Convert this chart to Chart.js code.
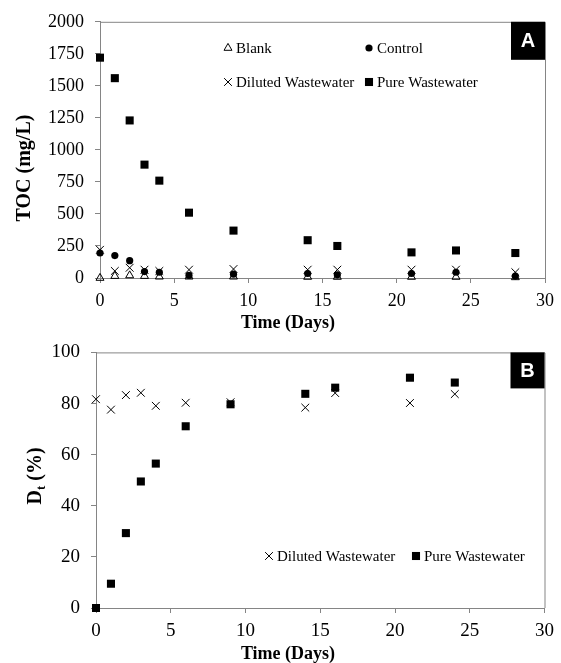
<!DOCTYPE html>
<html lang="en">
<head>
    <meta charset="UTF-8">
    <title>TOC and Dt over time</title>
    <script src="https://cdn.jsdelivr.net/npm/chart.js"></script>
    <style>
        body { margin: 0; background: #fff; }
        canvas { position: absolute; left: 0; }
        #tocChart { top: 0; }
        #dtChart { top: 330px; }
    </style>
</head>
<body>
    <canvas id="tocChart" width="561" height="342"></canvas>
    <canvas id="dtChart" width="561" height="333"></canvas>

    <script>
        // Panel A: TOC (mg/L) vs time
        const tocDays = [0, 1, 2, 3, 4, 6, 9, 14, 16, 21, 24, 28];
        const tocBlank = [0, 15, 20, 15, 10, 10, 10, 8, 8, 8, 8, 5];
        const tocControl = [195, 175, 135, 50, 45, 20, 30, 35, 25, 35, 45, 15];
        const tocDiluted = [220, 55, 80, 65, 55, 65, 70, 65, 65, 65, 65, 45];
        const tocPure = [1720, 1560, 1230, 885, 760, 510, 370, 295, 250, 200, 215, 195];

        // Panel B: Dt (%) vs time
        const dtDays = [0, 1, 2, 3, 4, 6, 9, 14, 16, 21, 24];
        const dtDiluted = [81.7, 77.6, 83.3, 84.2, 79.1, 80.3, 80.5, 78.4, 84.1, 80.2, 83.7];
        const dtPure = [0, 9.5, 29.3, 49.5, 56.5, 71.1, 79.7, 83.8, 86.2, 90.1, 88.2];

        const xTicks = [0, 5, 10, 15, 20, 25, 30];

        const SERIF = '"Liberation Serif", "Times New Roman", serif';
        const AXIS = '#858585';

        const toPoints = (xs, ys) => xs.map((x, i) => ({ x: x, y: ys[i] }));

        const styles = {
            blank:   { pointStyle: 'triangle', pointRadius: 4.6, backgroundColor: 'rgba(0,0,0,0)', borderColor: '#000', borderWidth: 1 },
            control: { pointStyle: 'circle',   pointRadius: 3.6, backgroundColor: '#000', borderColor: '#000', borderWidth: 0 },
            diluted: { pointStyle: 'crossRot', pointRadius: 5.5, backgroundColor: '#000', borderColor: '#000', borderWidth: 1 },
            pure:    { pointStyle: 'rect',     pointRadius: 5.7, backgroundColor: '#000', borderColor: '#000', borderWidth: 0 }
        };

        function drawMarker(ctx, st, x, y) {
            const r = st.pointRadius;
            ctx.save();
            ctx.fillStyle = st.backgroundColor;
            ctx.strokeStyle = st.borderColor;
            ctx.lineWidth = 1;
            ctx.beginPath();
            if (st.pointStyle === 'triangle') {
                for (let k = 0; k < 3; k++) {
                    const a = k * 2 * Math.PI / 3;
                    const px = x + Math.sin(a) * r, py = y - Math.cos(a) * r;
                    k === 0 ? ctx.moveTo(px, py) : ctx.lineTo(px, py);
                }
                ctx.closePath();
                ctx.stroke();
            } else if (st.pointStyle === 'circle') {
                ctx.arc(x, y, r, 0, 2 * Math.PI);
                ctx.fill();
            } else if (st.pointStyle === 'crossRot') {
                const d = r * Math.SQRT1_2;
                ctx.moveTo(x - d, y - d); ctx.lineTo(x + d, y + d);
                ctx.moveTo(x + d, y - d); ctx.lineTo(x - d, y + d);
                ctx.stroke();
            } else {
                const s = r * Math.SQRT1_2;
                ctx.fillRect(x - s, y - s, 2 * s, 2 * s);
            }
            ctx.restore();
        }

        // frame, panel letter, legend and axis titles
        const panelDecor = {
            id: 'panelDecor',
            afterDraw(chart, args, opts) {
                const ctx = chart.ctx;
                const a = chart.chartArea;
                ctx.save();
                ctx.strokeStyle = AXIS;
                ctx.lineWidth = 1;
                ctx.beginPath();
                ctx.moveTo(a.left, a.top + 0.5);
                ctx.lineTo(a.right + 0.5, a.top + 0.5);
                ctx.lineTo(a.right + 0.5, a.bottom);
                ctx.stroke();

                ctx.fillStyle = '#000';
                ctx.fillRect(a.right - opts.boxW, a.top, opts.boxW, opts.boxH);
                ctx.fillStyle = '#fff';
                ctx.font = 'bold 20px "Liberation Sans", Arial, sans-serif';
                ctx.textAlign = 'center';
                ctx.textBaseline = 'middle';
                ctx.fillText(opts.letter, a.right - opts.boxW / 2, a.top + opts.boxH / 2 + 1);

                ctx.font = '15px ' + SERIF;
                ctx.textAlign = 'left';
                ctx.fillStyle = '#000';
                opts.legend.forEach(item => {
                    drawMarker(ctx, styles[item.key], item.x, item.y);
                    ctx.fillText(item.text, item.x + 8, item.y + 1);
                });

                // x title
                ctx.font = 'bold 18px ' + SERIF;
                ctx.textAlign = 'center';
                ctx.fillText('Time (Days)', opts.xTitle[0], opts.xTitle[1]);

                // y title (rotated)
                ctx.translate(opts.yTitle[0], opts.yTitle[1]);
                ctx.rotate(-Math.PI / 2);
                const main = 'bold 20px ' + SERIF;
                const sub = 'bold 13px ' + SERIF;
                const parts = opts.yParts;
                let total = 0;
                parts.forEach(p => { ctx.font = p.sub ? sub : main; total += ctx.measureText(p.t).width; });
                let cx = -total / 2;
                ctx.textAlign = 'left';
                parts.forEach(p => {
                    ctx.font = p.sub ? sub : main;
                    ctx.fillText(p.t, cx, p.sub ? 6 : 0);
                    cx += ctx.measureText(p.t).width;
                });
                ctx.restore();
            }
        };

        function makeScales(yMax, yStep, tickSize, yWidth, xHeight) {
            const grid = { display: true, drawOnChartArea: false, drawTicks: true, tickLength: 5, color: AXIS, lineWidth: 1 };
            return {
                x: {
                    type: 'linear', min: 0, max: 30,
                    afterBuildTicks: s => { s.ticks = xTicks.map(v => ({ value: v })); },
                    ticks: { font: { family: SERIF, size: tickSize }, color: '#000', padding: 7 },
                    grid: grid,
                    border: { color: AXIS },
                    afterFit: s => { s.height = xHeight; }
                },
                y: {
                    min: 0, max: yMax,
                    ticks: {
                        stepSize: yStep, font: { family: SERIF, size: tickSize }, color: '#000', padding: 11,
                        callback: v => String(v)
                    },
                    grid: grid,
                    border: { color: AXIS },
                    afterFit: s => { s.width = yWidth; }
                }
            };
        }

        function ds(label, key, pts) {
            return Object.assign({ label: label, data: pts, showLine: false, clip: false }, styles[key]);
        }

        new Chart(document.getElementById('tocChart'), {
            type: 'scatter',
            data: {
                datasets: [
                    ds('Pure Wastewater', 'pure', toPoints(tocDays, tocPure)),
                    ds('Diluted Wastewater', 'diluted', toPoints(tocDays, tocDiluted)),
                    ds('Control', 'control', toPoints(tocDays, tocControl)),
                    ds('Blank', 'blank', toPoints(tocDays, tocBlank))
                ]
            },
            options: {
                responsive: false,
                animation: false,
                layout: { padding: { top: 17, right: 16, left: 0, bottom: 0 } },
                scales: makeScales(2000, 250, 18, 100, 64),
                plugins: {
                    legend: { display: false },
                    tooltip: { enabled: false },
                    panelDecor: {
                        letter: 'A', boxW: 34, boxH: 38,
                        legend: [
                            { key: 'blank', text: 'Blank', x: 228, y: 48 },
                            { key: 'control', text: 'Control', x: 369, y: 48 },
                            { key: 'diluted', text: 'Diluted Wastewater', x: 228, y: 82 },
                            { key: 'pure', text: 'Pure Wastewater', x: 369, y: 82 }
                        ],
                        xTitle: [288, 323],
                        yTitle: [25, 168],
                        yParts: [{ t: 'TOC (mg/L)' }]
                    }
                }
            },
            plugins: [panelDecor]
        });

        new Chart(document.getElementById('dtChart'), {
            type: 'scatter',
            data: {
                datasets: [
                    ds('Pure Wastewater', 'pure', toPoints(dtDays, dtPure)),
                    ds('Diluted Wastewater', 'diluted', toPoints(dtDays, dtDiluted))
                ]
            },
            options: {
                responsive: false,
                animation: false,
                layout: { padding: { top: 12, right: 12, left: 0, bottom: 0 } },
                scales: makeScales(100, 20, 19, 96, 55),
                plugins: {
                    legend: { display: false },
                    tooltip: { enabled: false },
                    panelDecor: {
                        letter: 'B', boxW: 34, boxH: 36,
                        legend: [
                            { key: 'diluted', text: 'Diluted Wastewater', x: 269, y: 226 },
                            { key: 'pure', text: 'Pure Wastewater', x: 416, y: 226 }
                        ],
                        xTitle: [288, 324],
                        yTitle: [36, 146],
                        yParts: [{ t: 'D' }, { t: 't', sub: true }, { t: ' (%)' }]
                    }
                }
            },
            plugins: [panelDecor]
        });
    </script>
</body>
</html>
